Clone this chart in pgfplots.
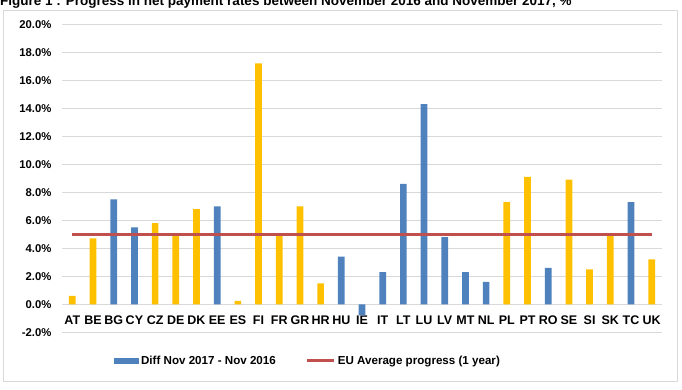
\documentclass[border=0pt]{standalone}
\usepackage{pgfplots}
\pgfplotsset{compat=1.18}
\usepackage{fontspec}
\setmainfont{Liberation Sans}
\definecolor{barblue}{HTML}{4F81BD}
\definecolor{baryellow}{HTML}{FFC000}
\definecolor{linered}{HTML}{C0504D}
\definecolor{gridgray}{HTML}{D9D9D9}
\begin{document}
\begin{tikzpicture}[x=1pt,y=1pt]
\draw[gridgray,line width=0.8pt] (3,8.3) rectangle (677,379.3);
\node[anchor=base west,inner sep=0pt,font=\bfseries\fontsize{13.5}{15}\selectfont] at (0,384) {Figure 1 : Progress in net payment rates between November 2016 and November 2017, \%};
\begin{axis}[
  at={(62pt,57.7pt)}, anchor=south west,
  width=600pt, height=308pt, scale only axis,
  xmin=-0.5, xmax=28.5, ymin=-2, ymax=20,
  xtick={0,...,28},
  xticklabels={AT,BE,BG,CY,CZ,DE,DK,EE,ES,FI,FR,GR,HR,HU,IE,IT,LT,LU,LV,MT,NL,PL,PT,RO,SE,SI,SK,TC,UK},
  ytick={-2,0,...,20},
  yticklabel={\pgfmathprintnumber[fixed,fixed zerofill,precision=1]{\tick}\%},
  /pgf/number format/assume math mode=true,
  major tick length=0pt,
  axis line style={draw=none},
  ymajorgrids, grid style={gridgray,line width=0.8pt},
  xticklabel style={font=\bfseries\fontsize{12.5}{14}\selectfont, anchor=center, yshift=11.8pt},
  yticklabel style={font=\bfseries\fontsize{11.3}{13}\selectfont, xshift=-7pt},
  legend style={at={(0.41,-0.093)}, anchor=center, draw=none, fill=none,
    legend columns=2, font=\bfseries\fontsize{11.6}{13}\selectfont,
    /tikz/every even column/.append style={column sep=28pt}},
  clip=false,
]
\addplot[ybar, bar width=6.7pt, bar shift=0pt, fill=barblue, draw=none,
  legend image code/.code={\fill[barblue] (0pt,-3pt) rectangle (25pt,3pt);}]
  coordinates {(2,7.5) (3,5.5) (7,7.0) (13,3.4) (14,-0.8) (15,2.3) (16,8.6) (17,14.3) (18,4.8) (19,2.3) (20,1.6) (23,2.6) (27,7.3)};
\addlegendentry{Diff Nov 2017 - Nov 2016}
\addplot[ybar, bar width=6.7pt, bar shift=0pt, fill=baryellow, draw=none, forget plot]
  coordinates {(0,0.6) (1,4.7) (4,5.8) (5,4.9) (6,6.8) (8,0.25) (9,17.2) (10,4.9) (11,7.0) (12,1.5) (21,7.3) (22,9.1) (24,8.9) (25,2.5) (26,4.9) (28,3.2)};
\addplot[sharp plot, linered, line width=3pt, mark=none,
  legend image code/.code={\draw[linered,line width=3pt] (0pt,0pt) -- (27pt,0pt);}]
  coordinates {(0,5) (28,5)};
\addlegendentry{EU Average progress (1 year)}
\end{axis}
\pgfresetboundingbox
\useasboundingbox (0,0) rectangle (682,390);
\end{tikzpicture}
\end{document}
